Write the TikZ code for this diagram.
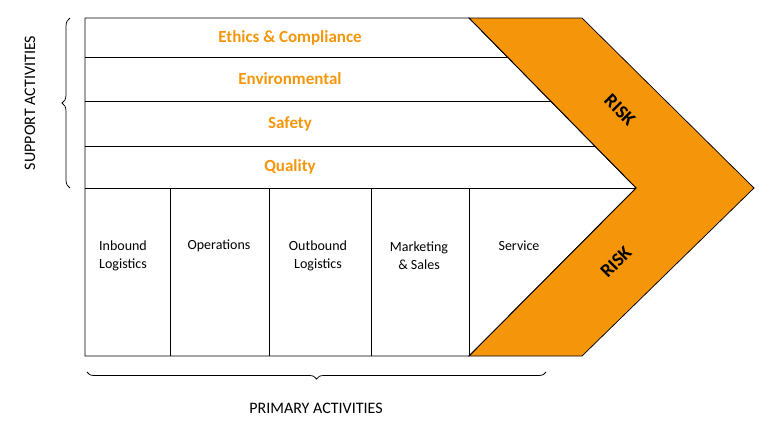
\documentclass[tikz,border=0pt]{standalone}
\usepackage{fontspec}
\setmainfont{Carlito}
\usetikzlibrary{decorations.pathreplacing}
\definecolor{riskorange}{RGB}{245,150,10}
\tikzset{every picture/.style={line width=0.75pt}}
\tikzset{
  support/.style={text=riskorange,font=\bfseries\fontsize{17}{20}\selectfont},
  primary/.style={align=center,font=\fontsize{14}{18}\selectfont},
  risk/.style={font=\bfseries\fontsize{19}{22}\selectfont},
  sidelabel/.style={font=\fontsize{16}{19}\selectfont}
}

\begin{document}
\begin{tikzpicture}[x=1pt,y=1pt,yscale=-1,xscale=1]
\useasboundingbox (0,0) rectangle (770,429);

%Orange chevron
\draw [fill=riskorange] (469,18) -- (582,18) -- (754,188) -- (582,356) -- (469,356) -- (636,188) -- cycle ;
%Main outline
\draw (85,18) -- (469,18) -- (636,188) -- (469,356) -- (85,356) -- cycle ;
%Support rows
\draw (85,57) -- (507,57) ;
\draw (85,101) -- (551,101) ;
\draw (85,146) -- (595,146) ;
\draw (85,188) -- (636,188) ;
%Primary columns
\draw (170,188) -- (170,356) ;
\draw (269,188) -- (269,356) ;
\draw (371,188) -- (371,356) ;
\draw (469,188) -- (469,356) ;

% Text Nodes
\node [support] (ethics) at (290,38) {Ethics \& Compliance};
\node [support] (env) at (290,79) {Environmental};
\node [support] (safety) at (290,124) {Safety};
\node [support] (quality) at (290,167) {Quality};
\node [primary] (inbound) at (123,256) {Inbound\\Logistics};
\node [primary] (ops) at (219,246) {Operations};
\node [primary] (outbound) at (318,256) {Outbound\\Logistics};
\node [primary] (mkt) at (419,256) {Marketing\\\& Sales};
\node [primary] (service) at (519,246) {Service};
\node [risk,rotate=-45] (risk1) at (620,110) {RISK};
\node [risk,rotate=45] (risk2) at (616,262) {RISK};

%Braces
\draw [decorate,decoration={brace,amplitude=8pt,mirror}] (70,18) -- (70,188) ;
\draw [decorate,decoration={brace,amplitude=7pt,mirror}] (87,372) -- (546,372) ;
\node [sidelabel,rotate=90] (support) at (30,103) {SUPPORT ACTIVITIES};
\node [sidelabel] (primaryact) at (316,408) {PRIMARY ACTIVITIES};

\end{tikzpicture}
\end{document}
